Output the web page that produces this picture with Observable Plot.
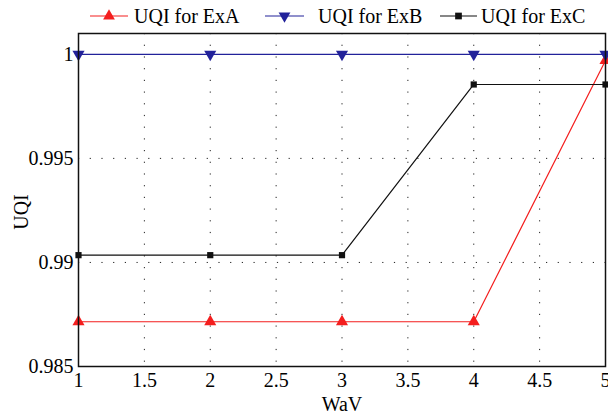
<!DOCTYPE html>
<html><head><meta charset="utf-8">
<script src="https://cdn.jsdelivr.net/npm/d3@7"></script>
<script src="https://cdn.jsdelivr.net/npm/@observablehq/plot@0.6"></script>
<style>
body{margin:0;background:#fff;}
#chart{position:relative;width:608px;height:416px;}
#chart svg, #chart svg text{font-family:"Liberation Serif","Times New Roman","Nimbus Roman","DejaVu Serif",serif !important;}
</style>
</head><body><div id="chart"></div>
<script>
const wav = [1, 2, 3, 4, 5];
const exA = [0.98715, 0.98715, 0.98715, 0.98715, 0.9997];
const exB = [1, 1, 1, 1, 1];
const exC = [0.99035, 0.99035, 0.99035, 0.99855, 0.99855];
const seriesNames = ["UQI for ExA", "UQI for ExB", "UQI for ExC"];
const seriesColors = ["#f41e1e", "#22229a", "#111111"];
const xTicks = [1, 1.5, 2, 2.5, 3, 3.5, 4, 4.5, 5];
const yTicks = [0.985, 0.99, 0.995, 1];
const xGrid = [1.5, 2, 2.5, 3, 3.5, 4, 4.5];
const yGrid = [0.99, 0.995];
const xLabel = "WaV";
const yLabel = "UQI";
const FONT = "'Liberation Serif', 'Times New Roman', 'DejaVu Serif', serif";

const rows = [];
[exA, exB, exC].forEach((vals, i) => vals.forEach((v, j) => rows.push({series: seriesNames[i], x: wav[j], y: v, i})));
const sub = i => rows.filter(d => d.i === i);

const plot = Plot.plot({
  width: 608, height: 416,
  marginLeft: 78, marginRight: 3, marginTop: 33, marginBottom: 50,
  style: {fontFamily: FONT, fontSize: "20px", color: "#000", background: "#fff"},
  x: {domain: [1, 5], ticks: xTicks, tickSize: 0, tickPadding: 6, tickFormat: d => String(d), label: null},
  y: {domain: [0.985, 1.001], ticks: yTicks, tickSize: 0, tickPadding: 5, tickFormat: d => String(+d.toFixed(3)), label: null},
  marks: [
    Plot.ruleX(xGrid, {stroke: "#222", strokeDasharray: "1.2,10.5", strokeWidth: 1}),
    Plot.ruleY(yGrid, {stroke: "#222", strokeDasharray: "1.2,10.5", strokeWidth: 1}),
    Plot.line(sub(0), {x: "x", y: "y", stroke: seriesColors[0], strokeWidth: 1.2}),
    Plot.line(sub(1), {x: "x", y: "y", stroke: seriesColors[1], strokeWidth: 1.2}),
    Plot.line(sub(2), {x: "x", y: "y", stroke: seriesColors[2], strokeWidth: 1.2}),
    Plot.dot(sub(0), {x: "x", y: "y", symbol: "triangle", fill: seriesColors[0], r: 4.5}),
    Plot.dot(sub(1), {x: "x", y: "y", symbol: "triangle", rotate: 180, fill: seriesColors[1], r: 4.5}),
    Plot.dot(sub(2), {x: "x", y: "y", symbol: "square", fill: seriesColors[2], r: 3.5}),
    Plot.frame({stroke: "#111", strokeWidth: 1.5})
  ]
});
document.getElementById("chart").appendChild(plot);
plot.querySelectorAll("text").forEach(t => t.setAttribute("font-family", FONT));

const svg = d3.select(plot);
svg.append("text").attr("x", 342).attr("y", 404).attr("dy", "0.35em").attr("text-anchor", "middle")
  .attr("font-size", 20).attr("font-family", FONT).attr("fill", "#000").text(xLabel);
svg.append("text").attr("transform", "translate(21,212) rotate(-90)").attr("dy", "0.35em").attr("text-anchor", "middle")
  .attr("font-size", 20).attr("font-family", FONT).attr("fill", "#000").text(yLabel);

const leg = svg.append("g").attr("font-size", 20).attr("font-family", FONT).attr("text-anchor", "start");
const legX = [90, 265, 440];
const legLen = [38, 39, 37];
const legText = [134, 318, 481];
const legY = 16;
const syms = [d3.symbolTriangle, d3.symbolTriangle, d3.symbolSquare];
seriesNames.forEach((name, i) => {
  leg.append("line").attr("x1", legX[i]).attr("x2", legX[i] + legLen[i]).attr("y1", legY).attr("y2", legY)
    .attr("stroke", seriesColors[i]).attr("stroke-width", 1.2);
  leg.append("path").attr("d", d3.symbol(syms[i], i === 2 ? 45 : 60)())
    .attr("transform", `translate(${legX[i] + legLen[i] / 2},${legY})` + (i === 1 ? " rotate(180)" : ""))
    .attr("fill", seriesColors[i]);
  leg.append("text").attr("x", legText[i]).attr("y", legY).attr("dy", "0.35em").attr("text-anchor", "start")
    .attr("fill", "#000").text(name);
});
</script></body></html>
